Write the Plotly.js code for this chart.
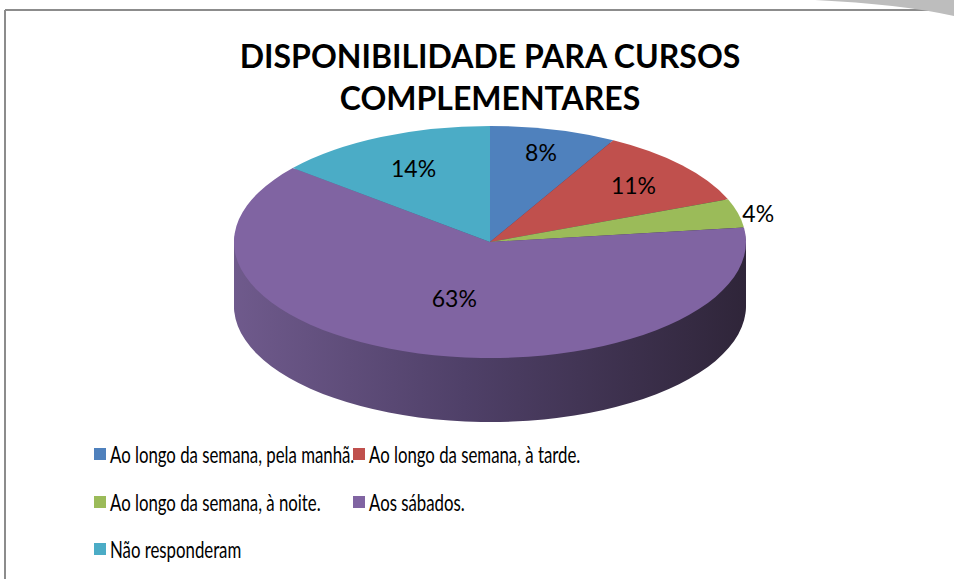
<!DOCTYPE html>
<html>
<head>
<meta charset="utf-8">
<script src="https://cdn.plot.ly/plotly-3.0.1.min.js"></script>
<style>
  html, body { margin: 0; padding: 0; background: #ffffff; }
  #chart { width: 954px; height: 579px; }
</style>
</head>
<body>
<div id="chart"></div>
<script>
// ---------- DATA ----------
const labels = [
  'Ao longo da semana, pela manhã.',
  'Ao longo da semana, à tarde.',
  'Ao longo da semana, à noite.',
  'Aos sábados.',
  'Não responderam'
];
const values = [8, 11, 4, 63, 14];
const chartTitle = 'DISPONIBILIDADE PARA CURSOS<br>COMPLEMENTARES';

// ---------- STYLE ----------
const sliceColors = ['#4f81bd', '#c0504d', '#9bbb59', '#8064a2', '#4bacc6'];
const sideColors  = ['#2f4d72', '#73302e', '#5d7035', '#4b3c63', '#2d6777'];
const labelPlacement = ['inside', 'inside', 'outside', 'inside', 'inside'];
const FONT = 'Lato, "Open Sans", "Noto Sans", sans-serif';

// 3D look parameters (pixels)
const CX = 490, CY = 242, RX = 256, RY = 116, DEPTH = 64, NLAYERS = 22;
const LEGEND_CONDENSE = 0.73;

const traces = [];
for (let i = NLAYERS; i >= 1; i--) {
  traces.push({
    type: 'pie', labels: labels, values: values, sort: false,
    direction: 'clockwise', rotation: 0,
    marker: { colors: sideColors, line: { width: 0 } },
    textinfo: 'none', hoverinfo: 'skip', showlegend: false,
    domain: { x: [0, 1], y: [0, 1] },
    meta: { offset: DEPTH * i / NLAYERS, side: true }
  });
}
traces.push({
  type: 'pie', labels: labels, values: values, sort: false,
  direction: 'clockwise', rotation: 0,
  marker: { colors: sliceColors, line: { width: 0 } },
  textinfo: 'percent', textposition: labelPlacement,
  insidetextorientation: 'horizontal',
  textfont: { family: FONT, size: 23, color: '#000000' },
  insidetextfont: { family: FONT, size: 23, color: '#000000' },
  outsidetextfont: { family: FONT, size: 23, color: '#000000' },
  domain: { x: [0, 1], y: [0, 1] },
  meta: { offset: 0, side: false }
});

const W = 954, H = 579;
const layout = {
  width: W, height: H,
  margin: { l: 0, r: 0, t: 0, b: 0 },
  paper_bgcolor: '#ffffff',
  title: {
    text: chartTitle,
    font: { family: FONT, size: 32, color: '#000000', weight: 'bold' },
    x: 490 / W, xanchor: 'center',
    y: 1 - 68 / H, yanchor: 'top', yref: 'container'
  },
  showlegend: true,
  legend: {
    orientation: 'h', x: 0.05, y: 0.2, xanchor: 'left', yanchor: 'top',
    font: { family: FONT, size: 23, color: '#000000' },
    bgcolor: 'rgba(0,0,0,0)', traceorder: 'normal'
  },
  shapes: [
    { type: 'line', xref: 'paper', yref: 'paper',
      x0: 5 / W, x1: 1, y0: 1 - 10 / H, y1: 1 - 10 / H,
      line: { color: '#8c8c8c', width: 2 } },
    { type: 'line', xref: 'paper', yref: 'paper',
      x0: 5 / W, x1: 5 / W, y0: 0, y1: 1 - 10 / H,
      line: { color: '#8c8c8c', width: 2 } },
    { type: 'path', xref: 'paper', yref: 'paper',
      path: 'M ' + (815 / W) + ',1 Q ' + (900 / W) + ',' + (1 - 4 / H) + ' 1,' + (1 - 16 / H) + ' L 1,1 Z',
      fillcolor: '#bdbdbd', line: { width: 0 } }
  ]
};

const gd = document.getElementById('chart');
Plotly.newPlot(gd, traces, layout, { displayModeBar: false, staticPlot: true }).then(function () {
  const svg = gd.querySelector('.main-svg');
  const svgCTM = svg.getScreenCTM();
  const NS = 'http://www.w3.org/2000/svg';
  let defs = svg.querySelector('defs');
  if (!defs) { defs = document.createElementNS(NS, 'defs'); svg.insertBefore(defs, svg.firstChild); }

  const traceGroups = gd.querySelectorAll('.pielayer > g.trace');
  traceGroups.forEach(function (g, idx) {
    const cd = gd.calcdata[idx][0];
    const r = cd.r, cx = cd.cx, cy = cd.cy;
    const sx = RX / r, sy = RY / r;
    const tr = gd._fullData[idx];
    const off = tr.meta.offset;

    if (tr.meta.side) {
      const gid = 'sideGrad' + idx;
      const lg = document.createElementNS(NS, 'linearGradient');
      lg.setAttribute('id', gid);
      lg.setAttribute('gradientUnits', 'userSpaceOnUse');
      lg.setAttribute('x1', cx - r); lg.setAttribute('x2', cx + r);
      lg.setAttribute('y1', cy); lg.setAttribute('y2', cy);
      [['0', '#6f5a8c'], ['0.45', '#4f4068'], ['1', '#2f2539']].forEach(function (s) {
        const st = document.createElementNS(NS, 'stop');
        st.setAttribute('offset', s[0]); st.setAttribute('stop-color', s[1]);
        lg.appendChild(st);
      });
      defs.appendChild(lg);
      g.querySelectorAll('path.surface').forEach(function (p) {
        p.style.fill = 'url(#' + gid + ')';
      });
    } else {
      g.querySelectorAll('g.slicetext text, text.slicetext').forEach(function (t) {
        const bb = t.getBoundingClientRect();
        const inv = t.parentNode.getScreenCTM().inverse();
        const pt = svg.createSVGPoint();
        pt.x = bb.left + bb.width / 2; pt.y = bb.top + bb.height / 2;
        const p = pt.matrixTransform(inv);
        const old = t.getAttribute('transform') || '';
        t.setAttribute('transform',
          'translate(' + p.x + ',' + p.y + ') scale(' + (1 / sx) + ',' + (1 / sy) + ') translate(' + (-p.x) + ',' + (-p.y) + ') ' + old);
      });
    }
    const tx = CX - sx * cx;
    const ty = CY + off - sy * cy;
    g.setAttribute('transform', 'matrix(' + sx + ',0,0,' + sy + ',' + tx + ',' + ty + ')');
  });

  // legend layout: 2 columns, 3 rows
  const colX = [70, 329];
  const rowY = [454, 502, 549];
  const items = gd.querySelectorAll('g.legend g.traces');
  const sb = gd.querySelector('g.legend .scrollbox');
  if (sb) sb.removeAttribute('clip-path');
  const lgEl = gd.querySelector('g.legend');
  if (lgEl) lgEl.removeAttribute('clip-path');
  items.forEach(function (it, i) {
    const pm = it.parentNode.getScreenCTM();
    const offX = pm.e - svgCTM.e, offY = pm.f - svgCTM.f;
    const X = colX[i % 2], Y = rowY[Math.floor(i / 2)];
    it.setAttribute('transform', 'translate(' + (X - offX) + ',' + (Y - offY) + ')');
    const lp = it.querySelector('.legendpoints');
    if (lp) lp.setAttribute('transform', 'translate(10,0)');
    const txt = it.querySelector('text.legendtext');
    if (txt) {
      const x0 = parseFloat(txt.getAttribute('x')) || 40;
      txt.setAttribute('transform', 'translate(' + x0 + ',0) scale(' + LEGEND_CONDENSE + ',1) translate(' + (-x0) + ',0)');
    }
  });
});
</script>
</body>
</html>
